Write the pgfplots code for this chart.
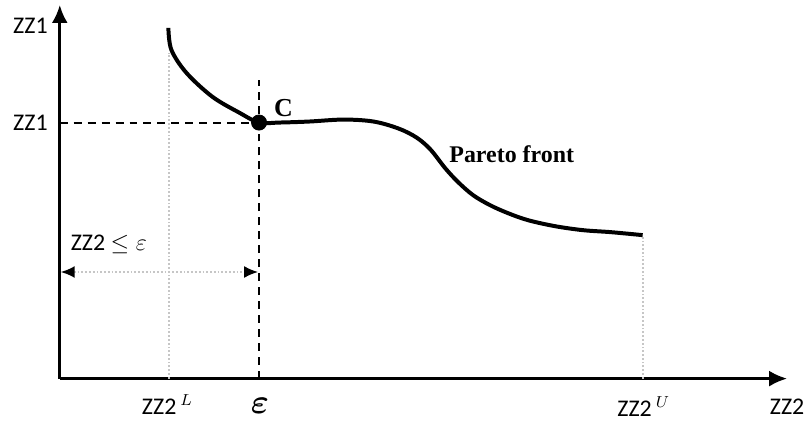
\documentclass[border=0pt]{standalone}
\usepackage{amsmath,amssymb}
\usepackage{fontspec}
\setmainfont{Carlito}
\newfontfamily\tnr{Liberation Serif}
\usepackage{pgfplots}
\pgfplotsset{compat=1.18}
\usetikzlibrary{arrows.meta}

\begin{document}
\begin{tikzpicture}
% 1 px of the reference = 0.5pt; y = 428 - pixel row
\begin{axis}[
    scale only axis,
    width=365pt, height=187.5pt,
    xmin=60, xmax=790,
    ymin=48, ymax=423,
    axis x line=bottom,
    axis y line=left,
    axis line style={line width=1.4pt, -{Latex[length=9pt,width=8pt]}},
    xtick=\empty, ytick=\empty,
    clip=false,
]
% page frame
\path (axis cs:0,0) rectangle (axis cs:811,428);

% guide lines
\draw[gray!45, densely dotted, line width=0.9pt] (axis cs:170,48) -- (axis cs:170,375);
\draw[gray!45, densely dotted, line width=0.9pt] (axis cs:645,48) -- (axis cs:645,190);
\draw[black, dash pattern=on 4pt off 3pt, line width=1pt] (axis cs:60,305) -- (axis cs:260,305);
\draw[black, dash pattern=on 4pt off 3pt, line width=1pt] (axis cs:260,48) -- (axis cs:260,348);
\draw[gray!45, densely dotted, line width=0.9pt,
      {Latex[length=7pt,width=6pt,black]}-{Latex[length=7pt,width=6pt,black]}]
      (axis cs:61,155) -- (axis cs:259,155);

% Pareto front
\addplot[black, line width=2pt, smooth, tension=0.55] coordinates {
    (169,400)(172,378)(187,355)(213,331)(240,315)(260,305)
    (280,305)(310,306)(345,308)(375,306)(400,299)(418,290)
    (432,278)(447,259)(460,245)(475,232)(492,222)(510,214)
    (530,207)(557,201)(585,197)(613,195)(645,192)
};
\addplot[only marks, mark=*, mark size=3.8pt, black] coordinates {(260,305)};

% labels
\node[anchor=east, font=\fontsize{12}{14}\selectfont] at (axis cs:55,402) {ZZ1};
\node[anchor=east, font=\fontsize{12}{14}\selectfont] at (axis cs:55,305) {ZZ1};
\node[anchor=west, font=\fontsize{12}{14}\selectfont] at (axis cs:64,183) {ZZ2 $\leq\varepsilon$};
\node[font=\fontsize{12}{14}\selectfont] at (axis cs:168,22) {ZZ2\,$^{L}$};
\node[font=\fontsize{16}{18}\selectfont] at (axis cs:261,21) {$\boldsymbol{\varepsilon}$};
\node[font=\fontsize{12}{14}\selectfont] at (axis cs:646,20) {ZZ2\,$^{U}$};
\node[font=\fontsize{12}{14}\selectfont] at (axis cs:790,20) {ZZ2};
\node[anchor=west, font=\tnr\bfseries\fontsize{13}{15}\selectfont] at (axis cs:268,320) {C};
\node[anchor=west, font=\tnr\bfseries\fontsize{12}{14}\selectfont] at (axis cs:444,273) {Pareto front};
\end{axis}
\end{tikzpicture}
\end{document}
